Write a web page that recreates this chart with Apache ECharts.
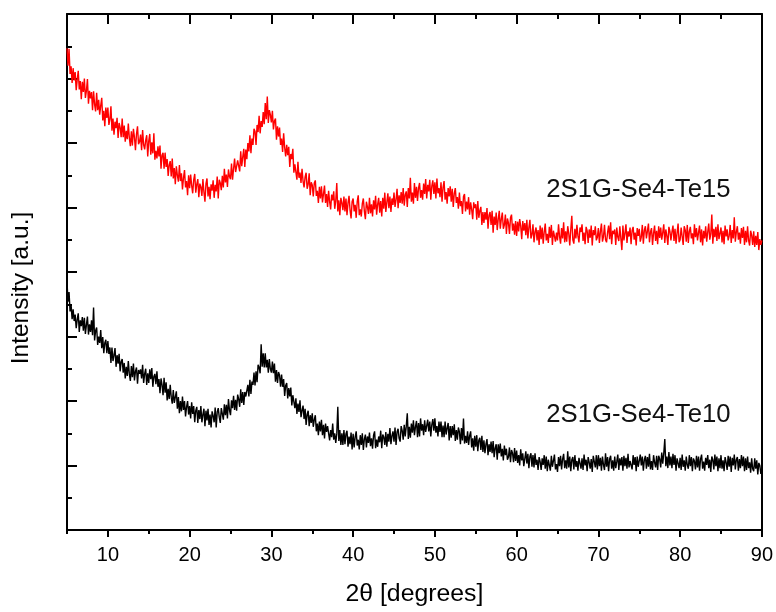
<!DOCTYPE html>
<html>
<head>
<meta charset="utf-8">
<script src="https://cdn.jsdelivr.net/npm/echarts@6/dist/echarts.min.js"></script>
<style>
  html, body { margin: 0; padding: 0; background: #ffffff; }
  #chart { width: 776px; height: 612px; }
</style>
</head>
<body>
<div id="chart"></div>
<script>
// XRD scan grid: 2θ from 5° to 90° in 0.125° steps
const scanStart = 5;
const scanStep = 0.125;

// Sample names and label anchor points (2θ, intensity)
const sampleNames = ['2S1G-Se4-Te15', '2S1G-Se4-Te10'];
const labelAnchors = [[74.9, 528], [74.9, 179]];

// x-axis tick values
const majorTicks = [10, 20, 30, 40, 50, 60, 70, 80, 90];
const minorTicks = [5, 15, 25, 35, 45, 55, 65, 75, 85];

// Intensity [a.u.], one row of eight readings per degree
const te15 = [
  747,720,746,707,719,693,716,697,
  710,682,698,712,683,696,668,695,
  679,700,670,681,699,661,681,669,
  679,651,680,660,649,678,651,667,
  644,658,670,635,650,626,655,639,
  655,628,637,657,619,638,613,633,
  623,639,608,631,624,609,638,609,
  627,602,619,606,630,608,595,618,
  596,622,609,589,614,626,598,602,
  613,589,620,597,590,604,612,579,
  603,614,582,601,584,615,574,588,
  576,595,579,596,560,581,585,560,
  585,563,575,549,566,572,548,576,
  545,561,536,564,550,540,566,541,
  553,528,546,558,531,541,519,550,
  530,551,534,522,543,552,523,536,
  544,516,537,532,518,544,524,509,
  537,545,517,532,513,536,526,542,
  515,535,525,548,514,543,538,527,
  549,531,560,539,551,532,559,548,
  544,568,543,560,576,555,552,573,
  571,556,587,564,578,591,563,590,
  575,600,587,612,584,607,597,622,
  618,597,628,617,642,615,634,625,
  648,629,662,637,672,631,651,644,
  632,650,621,634,638,605,626,610,
  624,597,607,586,615,593,579,597,
  581,594,563,583,575,591,554,567,
  568,543,571,546,554,538,560,541,
  531,547,554,529,536,553,519,539,
  535,517,538,542,518,526,507,532,
  514,533,508,521,534,507,521,501,
  526,509,497,520,511,525,498,510,
  538,494,511,488,515,507,496,517,
  494,514,488,507,518,496,483,509,
  514,494,504,484,509,519,488,497,
  486,506,514,494,482,509,501,490,
  515,491,505,486,511,497,518,489,
  505,515,492,510,486,515,498,523,
  493,508,522,499,517,493,514,504,
  523,501,512,529,499,519,507,524,
  506,530,503,520,525,501,530,514,
  546,509,523,506,538,515,532,510,
  530,538,515,527,512,537,521,544,
  514,535,525,543,512,533,542,521,
  539,514,545,522,530,516,539,509,
  531,541,512,524,506,530,517,533,
  509,529,501,522,530,507,516,498,
  523,502,510,490,517,521,494,509,
  497,516,489,508,497,482,508,499,
  505,481,510,484,495,501,473,493,
  476,493,481,499,467,488,493,473,
  495,461,486,473,492,465,482,495,
  467,482,492,467,473,489,459,483,
  476,459,484,489,464,475,458,479,
  456,478,463,482,471,451,479,464,
  476,457,481,452,469,481,452,458,
  474,446,462,469,449,465,442,472,
  451,469,444,462,475,449,459,445,
  470,453,473,442,464,467,447,461,
  449,474,455,444,468,452,477,446,
  463,447,471,460,441,466,487,450,
  444,467,452,473,456,446,469,462,
  474,448,461,443,470,464,445,466,
  453,472,441,465,457,471,449,454,
  468,445,463,475,447,455,473,450,
  446,461,472,451,477,443,464,459,
  466,442,469,454,448,471,452,434,
  472,449,460,474,445,463,455,469,
  443,464,470,450,461,441,468,456,
  467,447,454,473,444,465,471,452,
  455,475,446,462,468,442,460,472,
  448,464,443,471,453,469,450,461,
  474,445,466,456,442,470,463,449,
  462,472,448,467,444,460,475,446,
  450,469,455,442,471,465,447,473,
  445,463,470,452,460,443,474,454,
  468,449,461,472,446,466,441,464,
  452,471,447,462,475,450,459,489,
  444,467,454,470,448,474,451,460,
  469,446,464,443,472,455,466,449,
  456,473,445,465,452,485,447,462,
  471,450,461,444,468,453,470,442,
  464,446,471,449,441,464,457,442,
  463,439,456,442,462,434,451,442,
  449
];

const te10 = [
  385,354,369,339,349,327,342,324,
  334,313,326,336,307,325,316,330,
  309,329,304,318,331,303,319,307,
  325,302,345,294,309,314,287,300,
  290,310,282,299,274,290,295,274,
  293,273,283,259,283,262,271,282,
  253,271,258,273,246,261,265,244,
  259,235,253,239,262,242,231,254,
  237,258,232,246,252,227,248,242,
  249,235,256,228,242,250,225,243,
  228,249,234,251,222,238,242,226,
  246,222,234,212,235,225,209,236,
  213,229,201,219,203,225,206,196,
  217,197,206,215,188,206,181,200,
  184,207,186,200,176,191,200,179,
  192,173,198,180,192,167,185,191,
  166,186,172,192,167,179,188,161,
  185,170,188,163,179,159,184,177,
  167,190,159,183,189,175,166,189,
  186,171,195,178,194,173,203,186,
  178,201,189,208,186,202,185,210,
  203,191,218,197,214,194,214,207,
  204,225,207,233,211,230,225,244,
  224,246,229,256,252,243,288,253,
  274,252,274,252,264,244,265,250,
  244,261,243,258,230,248,228,245,
  240,222,241,222,234,208,224,228,
  204,220,207,221,193,209,210,189,
  204,180,196,183,201,175,185,193,
  172,188,163,179,185,161,178,166,
  181,160,171,178,153,165,147,168,
  153,171,147,163,142,165,152,161,
  161,139,155,144,165,140,150,135,
  149,191,138,155,132,150,132,155,
  133,149,154,129,145,133,151,125,
  149,128,144,153,131,140,125,147,
  132,150,124,141,148,128,145,135,
  151,130,142,126,147,153,127,140,
  129,145,136,154,127,148,144,132,
  152,129,149,137,158,133,146,153,
  137,159,132,152,157,142,137,161,
  154,140,163,145,161,181,141,160,
  143,165,151,170,147,160,169,144,
  166,145,173,154,164,147,170,152,
  149,171,153,168,145,163,172,154,
  173,151,161,145,168,152,168,144,
  162,144,168,148,158,166,139,161,
  143,161,147,164,138,155,140,159,
  152,133,158,139,173,134,146,135,
  153,132,146,153,128,142,123,146,
  129,147,122,139,143,124,146,121,
  139,119,133,141,116,133,121,137,
  119,138,113,127,133,109,133,119,
  134,114,126,108,131,116,126,109,
  113,128,105,124,119,105,127,107,
  123,104,116,100,125,108,119,99,
  102,122,103,118,96,114,119,98,
  116,97,119,101,109,93,113,106,
  93,111,101,116,95,114,91,109,
  112,92,115,98,107,117,94,102,
  90,113,99,115,94,110,118,96,
  108,95,122,97,114,91,109,113,
  94,116,98,107,92,112,115,95,
  111,93,117,100,109,91,113,105,
  95,110,90,115,106,97,116,94,
  116,99,112,92,114,101,93,119,
  98,113,91,110,115,95,108,92,
  114,96,106,117,93,111,100,113,
  92,115,99,112,95,118,97,107,
  110,94,116,101,113,91,114,98,
  96,117,100,114,92,109,115,95,
  113,98,118,94,107,93,116,105,
  97,115,93,115,110,97,120,103,
  119,141,99,114,96,121,100,114,
  96,118,101,116,92,111,113,96,
  112,93,117,98,108,92,114,101,
  95,116,99,113,91,111,107,94,
  115,97,114,92,110,117,95,106,
  92,112,101,116,96,109,90,114,
  109,94,117,99,114,91,111,96,
  116,95,108,91,113,105,93,115,
  98,114,90,112,100,117,94,109,
  113,92,110,96,116,99,114,91,
  111,93,114,96,105,89,111,95,
  91,111,95,108,86,104,100,87,
  95
];

const FONT = '"Liberation Sans", Arial, sans-serif';
const AXIS_COLOR = '#000000';

function toPairs(values) {
  return values.map((v, i) => [scanStart + i * scanStep, v]);
}

function labelPoint(idx) {
  return {
    symbol: 'circle',
    symbolSize: 1,
    itemStyle: { color: 'rgba(0,0,0,0)' },
    label: {
      show: true,
      position: 'inside',
      formatter: sampleNames[idx],
      color: '#111111',
      fontFamily: FONT,
      fontSize: 25.7
    },
    data: [{ coord: labelAnchors[idx] }]
  };
}

const baseX = { type: 'value', min: 5, max: 90, splitLine: { show: false } };

const chart = echarts.init(document.getElementById('chart'), null, { renderer: 'canvas' });
chart.setOption({
  backgroundColor: '#ffffff',
  animation: false,
  grid: { left: 67, right: 12, top: 14, bottom: 81 },
  xAxis: [
    Object.assign({}, baseX, {
      position: 'bottom',
      name: '2\u03B8 [degrees]',
      nameLocation: 'middle',
      nameGap: 52,
      nameTextStyle: { fontFamily: FONT, fontSize: 24.8, color: '#000' },
      axisLine: { show: true, onZero: false, lineStyle: { color: AXIS_COLOR, width: 2 } },
      axisTick: { show: true, customValues: majorTicks, length: 7, lineStyle: { color: AXIS_COLOR, width: 2 } },
      axisLabel: { show: true, customValues: majorTicks, margin: 15, fontFamily: FONT, fontSize: 20, color: '#000' }
    }),
    Object.assign({}, baseX, {
      position: 'top',
      axisLine: { show: true, onZero: false, lineStyle: { color: AXIS_COLOR, width: 2 } },
      axisTick: { show: true, inside: true, customValues: majorTicks, length: 10, lineStyle: { color: AXIS_COLOR, width: 2 } },
      axisLabel: { show: false }
    }),
    Object.assign({}, baseX, {
      position: 'bottom',
      axisLine: { show: false, onZero: false },
      axisTick: { show: true, customValues: minorTicks, length: 4, lineStyle: { color: AXIS_COLOR, width: 2 } },
      axisLabel: { show: false }
    }),
    Object.assign({}, baseX, {
      position: 'top',
      axisLine: { show: false, onZero: false },
      axisTick: { show: true, inside: true, customValues: minorTicks, length: 5, lineStyle: { color: AXIS_COLOR, width: 2 } },
      axisLabel: { show: false }
    })
  ],
  yAxis: [
    {
      type: 'value', position: 'left', min: 0, max: 800, interval: 100,
      splitLine: { show: false },
      axisLine: { show: true, onZero: false, lineStyle: { color: AXIS_COLOR, width: 2 } },
      axisTick: { show: true, inside: true, length: 10, lineStyle: { color: AXIS_COLOR, width: 2 } },
      minorTick: { show: true, splitNumber: 2, length: 5, lineStyle: { color: AXIS_COLOR, width: 2 } },
      axisLabel: { show: false }
    },
    {
      type: 'value', position: 'right', min: 0, max: 800, interval: 100,
      splitLine: { show: false },
      axisLine: { show: true, onZero: false, lineStyle: { color: AXIS_COLOR, width: 2 } },
      axisTick: { show: false },
      axisLabel: { show: false }
    }
  ],
  graphic: [
    {
      type: 'text',
      x: 21, y: 288,
      rotation: Math.PI / 2,
      style: {
        text: 'Intensity [a.u.]',
        font: '24.5px "Liberation Sans", Arial, sans-serif',
        fill: '#000',
        textAlign: 'center',
        textVerticalAlign: 'middle'
      }
    }
  ],
  series: [
    {
      name: sampleNames[0],
      type: 'line',
      xAxisIndex: 0, yAxisIndex: 0,
      data: toPairs(te15),
      showSymbol: false,
      symbol: 'none',
      sampling: 'none',
      lineStyle: { color: '#ff0000', width: 1.4 },
      itemStyle: { color: '#ff0000' },
      markPoint: labelPoint(0)
    },
    {
      name: sampleNames[1],
      type: 'line',
      xAxisIndex: 0, yAxisIndex: 0,
      data: toPairs(te10),
      showSymbol: false,
      symbol: 'none',
      sampling: 'none',
      lineStyle: { color: '#000000', width: 1.4 },
      itemStyle: { color: '#000000' },
      markPoint: labelPoint(1)
    }
  ]
});
</script>
</body>
</html>
